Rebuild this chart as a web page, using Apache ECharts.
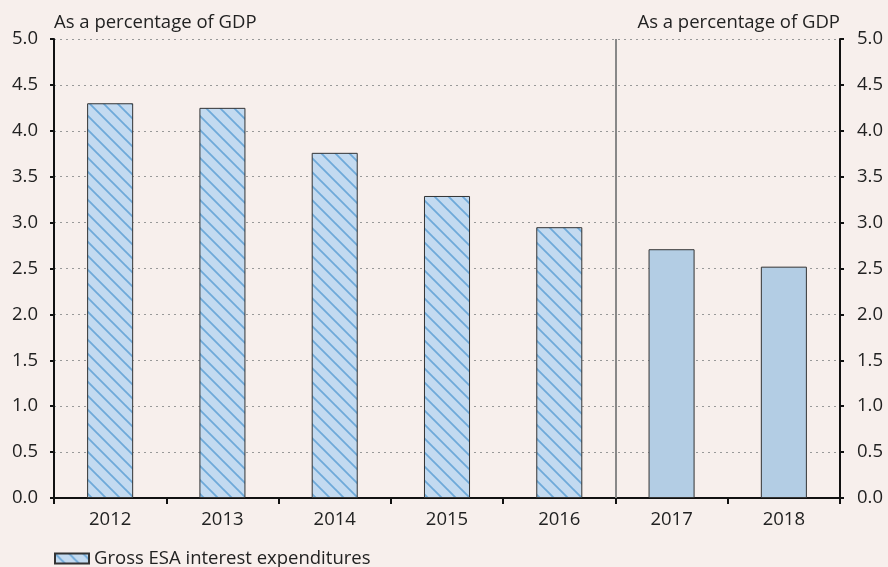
<!DOCTYPE html>
<html><head><meta charset="utf-8">
<script src="https://cdn.jsdelivr.net/npm/echarts@6/dist/echarts.min.js"></script>
<style>html,body{margin:0;padding:0;background:#F7EFEC}#c{width:888px;height:567px}</style>
</head><body><div id="c"></div>
<script>
const categories = ['2012','2013','2014','2015','2016','2017','2018'];
const values = [4.30, 4.25, 3.76, 3.29, 2.95, 2.71, 2.52];
const forecastFrom = 5; // index of first solid bar (2017)
const seriesName = 'Gross ESA interest expenditures';
const axisName = 'As a percentage of GDP';

function hatch(){
  const s = 14;
  const c = document.createElement('canvas');
  c.width = s; c.height = s;
  const g = c.getContext('2d');
  g.fillStyle = '#C3DAF0'; g.fillRect(0,0,s,s);
  g.strokeStyle = '#6EA9D9'; g.lineWidth = 1.8;
  g.beginPath();
  g.moveTo(-2,-2); g.lineTo(s+2,s+2);
  g.moveTo(-s-2,-2); g.lineTo(2,s+2);
  g.moveTo(s-2,-2); g.lineTo(2*s+2,s+2);
  g.stroke();
  return c;
}
const pat = {image: hatch(), repeat: 'repeat'};
const font = 'Open Sans';
const fs = 18.5;

const data = values.map((v,i)=> i>=forecastFrom
  ? {value:v, itemStyle:{color:'#B3CDE4', borderColor:'#333', borderWidth:1}}
  : {value:v});

const chart = echarts.init(document.getElementById('c'));
chart.setOption({
  backgroundColor:'#F7EFEC',
  animation:false,
  textStyle:{fontFamily:font},
  grid:{left:54, right:48, top:39, bottom:69},
  legend:{
    left:54, top:549, itemWidth:34, itemHeight:10, itemGap:8, icon:'rect', padding:0,
    textStyle:{fontSize:fs, color:'#222', fontFamily:font},
    data:[seriesName]
  },
  xAxis:[{
    type:'category', data:categories,
    axisLine:{lineStyle:{color:'#111', width:2}},
    axisTick:{show:true, length:6, lineStyle:{color:'#111', width:2}},
    axisLabel:{fontSize:fs, color:'#222', margin:12}
  },{
    type:'value', min:0, max:7, show:false
  }],
  yAxis:[{
    type:'value', min:0, max:5, interval:0.5, position:'left',
    name:axisName, nameLocation:'end', nameGap:7,
    nameTextStyle:{align:'left', fontSize:fs, color:'#222'},
    axisLine:{show:true, lineStyle:{color:'#111', width:2}},
    axisTick:{show:true, length:4, lineStyle:{color:'#111', width:2}},
    axisLabel:{fontSize:fs, color:'#222', margin:16, formatter:v=>v.toFixed(1)},
    splitLine:{show:true, lineStyle:{color:'#999', type:[2,4], width:1}}
  },{
    type:'value', min:0, max:5, interval:0.5, position:'right',
    name:axisName, nameLocation:'end', nameGap:7,
    nameTextStyle:{align:'right', fontSize:fs, color:'#222'},
    axisLine:{show:true, lineStyle:{color:'#111', width:2}},
    axisTick:{show:true, length:4, lineStyle:{color:'#111', width:2}},
    axisLabel:{fontSize:fs, color:'#222', margin:17, formatter:v=>v.toFixed(1)},
    splitLine:{show:false}
  }],
  series:[{
    name:seriesName, type:'bar', data:data, barWidth:'41%',
    itemStyle:{color:pat, borderColor:'#333', borderWidth:1}
  },{
    type:'scatter', xAxisIndex:1, yAxisIndex:0, data:[], silent:true,
    markLine:{
      symbol:'none', silent:true, label:{show:false},
      lineStyle:{color:'#888', type:'solid', width:2},
      data:[[{coord:[forecastFrom,0]},{coord:[forecastFrom,5]}]]
    }
  }]
});
</script></body></html>
